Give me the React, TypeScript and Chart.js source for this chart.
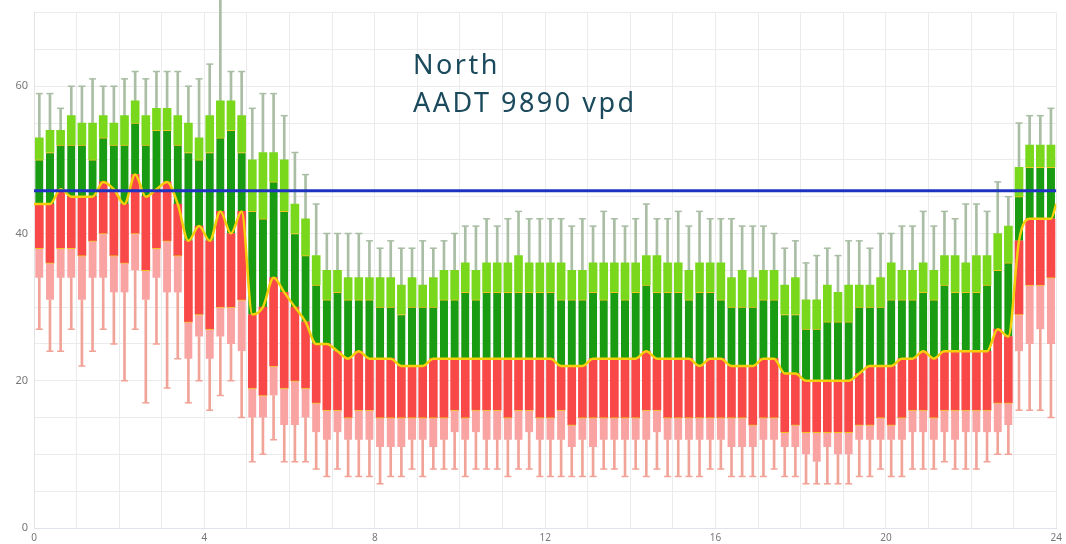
import React, { useEffect, useRef } from "react";
import { Chart, registerables } from "chart.js";

Chart.register(...registerables);

// 15-minute bins across the day (hours)
const BIN_HOURS = 0.25;

// Upper whisker end (max)
const maxV = [
  59, 59, 57, 60, 60, 61, 60, 60, 61, 62,
  61, 62, 62, 62, 60, 61, 63, 72, 62, 62,
  57, 59, 59, 56, 51, 48, 44, 40, 40, 40,
  40, 39, 38, 39, 38, 38, 39, 38, 39, 40,
  41, 41, 42, 41, 42, 43, 42, 42, 42, 42,
  41, 42, 41, 43, 42, 41, 42, 44, 42, 42,
  43, 41, 43, 42, 42, 42, 41, 41, 41, 40,
  38, 39, 36, 37, 38, 37, 39, 39, 38, 40,
  40, 41, 41, 43, 41, 43, 42, 44, 44, 43,
  47, 45, 55, 56, 56, 57,
];
// Top of light green box
const p90 = [
  53, 54, 54, 56, 55, 55, 56, 55, 56, 58,
  56, 57, 57, 56, 55, 53, 56, 58, 58, 56,
  50, 51, 51, 50, 44, 42, 37, 35, 35, 34,
  34, 34, 34, 34, 33, 34, 33, 34, 35, 35,
  36, 35, 36, 36, 36, 37, 36, 36, 36, 36,
  35, 35, 36, 36, 36, 36, 36, 37, 37, 36,
  36, 35, 36, 36, 36, 34, 35, 34, 35, 35,
  33, 34, 31, 31, 33, 32, 33, 33, 33, 34,
  36, 35, 35, 36, 35, 37, 37, 36, 37, 37,
  40, 41, 49, 52, 52, 52,
];
// Top of dark green box
const p75 = [
  50, 51, 52, 52, 52, 50, 53, 52, 52, 55,
  52, 54, 54, 52, 51, 50, 51, 53, 54, 51,
  43, 42, 47, 43, 40, 37, 33, 31, 32, 31,
  31, 31, 30, 30, 29, 30, 30, 30, 31, 31,
  32, 31, 32, 32, 32, 32, 32, 32, 32, 31,
  31, 31, 32, 31, 32, 31, 32, 33, 32, 32,
  32, 31, 32, 32, 31, 30, 30, 30, 31, 31,
  29, 29, 27, 27, 28, 28, 28, 30, 30, 30,
  31, 31, 31, 32, 31, 33, 32, 32, 32, 33,
  35, 36, 45, 49, 49, 49,
];
// Median (yellow line)
const median = [
  44, 44, 46, 45, 45, 45, 47, 46, 44, 48,
  45, 46, 47, 44, 39, 41, 39, 43, 40, 43,
  29, 30, 34, 32, 30, 28, 25, 25, 24, 23,
  24, 23, 23, 23, 22, 22, 22, 23, 23, 23,
  23, 23, 23, 23, 23, 23, 23, 23, 23, 22,
  22, 22, 23, 23, 23, 23, 23, 24, 23, 23,
  23, 23, 22, 23, 23, 22, 22, 22, 23, 23,
  21, 21, 20, 20, 20, 20, 20, 21, 22, 22,
  22, 23, 23, 24, 23, 24, 24, 24, 24, 24,
  27, 26, 39, 42, 42, 42,
];
const medianAtMidnightStart = 44;
const medianAtMidnightEnd = 44;
// Bottom of red box
const p25 = [
  38, 36, 38, 38, 37, 39, 40, 37, 36, 40,
  35, 38, 39, 37, 28, 29, 27, 30, 30, 31,
  19, 18, 22, 19, 20, 19, 17, 16, 16, 15,
  16, 16, 15, 15, 15, 15, 15, 15, 15, 16,
  15, 16, 16, 16, 15, 16, 16, 15, 15, 16,
  14, 15, 15, 15, 15, 15, 15, 16, 16, 15,
  15, 15, 15, 15, 15, 15, 15, 14, 15, 15,
  13, 14, 13, 13, 13, 13, 13, 14, 14, 15,
  14, 15, 16, 16, 15, 16, 16, 16, 16, 16,
  17, 17, 29, 33, 33, 34,
];
// Bottom of light pink box
const p10 = [
  34, 31, 34, 34, 31, 34, 34, 32, 32, 35,
  31, 34, 32, 32, 23, 26, 23, 26, 25, 24,
  15, 15, 18, 14, 14, 15, 13, 12, 13, 12,
  12, 12, 11, 11, 11, 12, 12, 11, 12, 13,
  12, 13, 12, 12, 12, 12, 13, 12, 12, 12,
  11, 12, 11, 12, 12, 12, 12, 12, 13, 12,
  12, 12, 12, 12, 12, 11, 11, 11, 12, 12,
  11, 11, 10, 9, 11, 10, 10, 12, 12, 12,
  12, 12, 13, 13, 12, 13, 12, 13, 13, 13,
  13, 14, 24, 25, 27, 25,
];
// Lower whisker end (min)
const minV = [
  27, 24, 24, 27, 22, 24, 27, 25, 20, 27,
  17, 25, 19, 23, 17, 20, 16, 18, 20, 15,
  9, 10, 12, 9, 9, 9, 8, 7, 8, 7,
  7, 7, 6, 7, 7, 8, 7, 8, 8, 8,
  7, 8, 8, 8, 7, 8, 8, 7, 7, 7,
  7, 7, 7, 8, 8, 7, 8, 7, 8, 7,
  7, 7, 7, 8, 8, 7, 7, 7, 7, 8,
  7, 7, 6, 6, 6, 6, 6, 7, 7, 8,
  7, 7, 8, 8, 8, 9, 8, 8, 8, 9,
  10, 10, 16, 16, 16, 15,
];

const referenceLevel = 45.8;
const titleLines = ["North", "AADT 9890 vpd"];

const COLORS = {
  pink: "#f9a3a3",
  red: "#f84848",
  dkGreen: "#1a9c12",
  ltGreen: "#7ad81c",
  seam: "#f3c21c",
  median: "#f5d00a",
  lowWhisker: "#f2a398",
  highWhisker: "#a9bea4",
  blue: "#1f33c2",
  grid: "#ebebeb",
  tick: "#777777",
  title: "#1b4a5c",
};

export default function App() {
  const ref = useRef<HTMLCanvasElement>(null);

  useEffect(() => {
    Chart.defaults.font.family = "'Noto Sans', sans-serif";
    const centers = median.map((_, i) => i * BIN_HOURS + BIN_HOURS / 2);
    const range = (lo: number[], hi: number[]) =>
      centers.map((x, i) => ({ x, y: [lo[i], hi[i]] }));
    const pts = (v: number[]) => centers.map((x, i) => ({ x, y: v[i] }));
    const seamTop = { top: 1, right: 0, bottom: 0, left: 0 };

    const chart = new Chart(ref.current as HTMLCanvasElement, {
      type: "bar",
      data: {
        datasets: [
          {
            type: "line",
            data: [
              { x: 0, y: referenceLevel },
              { x: 24, y: referenceLevel },
            ],
            borderColor: COLORS.blue,
            borderWidth: 3,
            pointRadius: 0,
            order: 0,
          } as any,
          {
            type: "line",
            data: [
              { x: 0, y: medianAtMidnightStart },
              ...pts(median),
              { x: 24, y: medianAtMidnightEnd },
            ],
            borderColor: COLORS.median,
            borderWidth: 2.5,
            pointRadius: 0,
            cubicInterpolationMode: "monotone",
            order: 1,
          } as any,
          {
            type: "scatter",
            data: pts(maxV),
            pointStyle: "line",
            pointRadius: 3.5,
            borderColor: COLORS.highWhisker,
            borderWidth: 1.5,
            clip: false,
            order: 2,
          } as any,
          {
            type: "scatter",
            data: pts(minV),
            pointStyle: "line",
            pointRadius: 3.5,
            borderColor: COLORS.lowWhisker,
            borderWidth: 1.5,
            order: 2,
          } as any,
          {
            type: "bar",
            data: range(p10, p25),
            backgroundColor: COLORS.pink,
            borderColor: COLORS.seam,
            borderWidth: seamTop,
            borderSkipped: false,
            grouped: false,
            barThickness: 8,
            order: 3,
          } as any,
          {
            type: "bar",
            data: range(p25, median),
            backgroundColor: COLORS.red,
            borderWidth: 0,
            grouped: false,
            barThickness: 8,
            order: 3,
          } as any,
          {
            type: "bar",
            data: range(median, p75),
            backgroundColor: COLORS.dkGreen,
            borderColor: COLORS.seam,
            borderWidth: seamTop,
            borderSkipped: false,
            grouped: false,
            barThickness: 8,
            order: 3,
          } as any,
          {
            type: "bar",
            data: range(p75, p90),
            backgroundColor: COLORS.ltGreen,
            borderWidth: 0,
            grouped: false,
            barThickness: 8,
            order: 3,
          } as any,
          {
            type: "bar",
            data: range(minV, p10),
            backgroundColor: COLORS.lowWhisker,
            borderWidth: 0,
            grouped: false,
            barThickness: 2,
            order: 4,
          } as any,
          {
            type: "bar",
            data: range(p90, maxV),
            backgroundColor: COLORS.highWhisker,
            borderWidth: 0,
            grouped: false,
            barThickness: 2,
            clip: false,
            order: 4,
          } as any,
        ],
      },
      options: {
        responsive: false,
        animation: false,
        devicePixelRatio: 1,
        layout: { padding: { top: 12, right: 7, left: 0, bottom: 0 } },
        plugins: {
          legend: { display: false },
          tooltip: { enabled: false },
        },
        scales: {
          x: {
            type: "linear",
            min: 0,
            max: 24,
            offset: false,
            grid: { color: COLORS.grid, offset: false, drawTicks: false },
            border: { color: "#dfe3ea" },
            ticks: {
              stepSize: 1,
              autoSkip: false,
              maxRotation: 0,
              padding: 4,
              color: COLORS.tick,
              font: { size: 10 },
              callback: (v: any) => (Number(v) % 4 === 0 ? String(v) : ""),
            },
            afterFit: (s: any) => {
              s.height = 16;
            },
          },
          y: {
            min: 0,
            max: 70,
            grid: { color: COLORS.grid, drawTicks: false },
            border: { color: "#e3e3e3" },
            ticks: {
              stepSize: 5,
              padding: 6,
              color: COLORS.tick,
              font: { size: 11 },
              callback: (v: any) => (Number(v) % 20 === 0 ? String(v) : ""),
            },
            afterFit: (s: any) => {
              s.width = 34;
            },
          },
        },
      } as any,
    });
    return () => chart.destroy();
  }, []);

  return (
    <div
      style={{
        position: "absolute",
        left: 0,
        top: 0,
        width: 1066,
        height: 544,
        background: "#ffffff",
      }}
    >
      <canvas ref={ref} width={1066} height={544} />
      <div
        style={{
          position: "absolute",
          left: 413,
          top: 45,
          fontFamily: "'Noto Sans', sans-serif",
          fontSize: 27,
          lineHeight: "37.7px",
          letterSpacing: "2.5px",
          color: COLORS.title,
          whiteSpace: "nowrap",
        }}
      >
        {titleLines.map((t) => (
          <div key={t}>{t}</div>
        ))}
      </div>
    </div>
  );
}
